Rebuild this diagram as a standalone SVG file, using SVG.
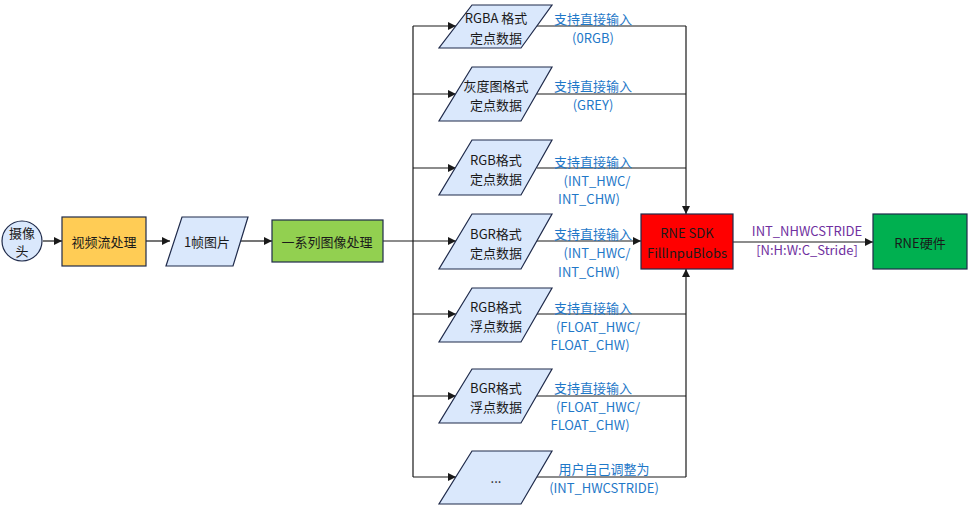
<svg xmlns="http://www.w3.org/2000/svg" width="968" height="514" viewBox="0 0 968 514">
<defs>
<marker id="ah" viewBox="0 0 10 10" refX="10" refY="5" markerWidth="8" markerHeight="8" markerUnits="userSpaceOnUse" orient="auto">
<path d="M0,0 L10,5 L0,10 z" fill="#1a1a1a"/>
</marker>
<style>
text{font-family:"Microsoft YaHei","Noto Sans CJK SC","Noto Sans",sans-serif;font-size:13px;text-anchor:middle;dominant-baseline:central;fill:#1a1a1a}
.c{fill:none;stroke:#1a1a1a;stroke-width:1.2}
.a{marker-end:url(#ah)}
.p{fill:#DAE8FC;stroke:#1F2A4A;stroke-width:1.2}
.b{stroke:#1F2A4A;stroke-width:1.2}
.l{fill:#1F78C8}
.v{fill:#7030A0}
</style>
</defs>
<rect width="968" height="514" fill="#ffffff"/>
<g id="connectors">
<path class="c a" d="M43,241 L62,241"/>
<path class="c a" d="M146,241 L170,241"/>
<path class="c a" d="M240,241 L272,241"/>
<path class="c" d="M383,241 L413,241 M413,26 L413,477"/>
<path class="c a" d="M413,26 L456,26"/>
<path class="c a" d="M413,94 L456,94"/>
<path class="c a" d="M413,168 L456,168"/>
<path class="c a" d="M413,241 L456,241"/>
<path class="c a" d="M413,314 L456,314"/>
<path class="c a" d="M413,396 L456,396"/>
<path class="c a" d="M413,477 L456,477"/>
<path class="c" d="M537,26 L686,26 M537,94 L686,94 M537,168 L686,168"/>
<path class="c a" d="M686,26 L686,214"/>
<path class="c a" d="M537,241 L641,241"/>
<path class="c" d="M537,314 L686,314 M537,396 L686,396 M537,477 L686,477"/>
<path class="c a" d="M686,477 L686,269"/>
<path class="c a" d="M733,242 L873,242"/>
</g>
<g id="camera"><circle cx="22" cy="241" r="20" fill="#DAE8FC" class="b"/><text x="22" y="232">摄像</text><text x="22" y="250">头</text></g>
<g id="video"><rect x="62" y="217" width="84" height="49" fill="#FFCC55" class="b"/><text x="104" y="241">视频流处理</text></g>
<g id="frame"><polygon class="p" points="182,217 248,217 233,266 166,266"/><text x="207" y="241">1帧图片</text></g>
<g id="imgproc"><rect x="272" y="220" width="111" height="42" fill="#92D050" class="b"/><text x="327" y="241">一系列图像处理</text></g>
<g id="rgba"><polygon class="p" points="472,5 552,5 521,48 439,48"/><text x="496" y="17">RGBA 格式</text><text x="496" y="37">定点数据</text></g>
<g id="grey"><polygon class="p" points="472,67 552,67 521,121 439,121"/><text x="496" y="85">灰度图格式</text><text x="496" y="104">定点数据</text></g>
<g id="rgbint"><polygon class="p" points="472,140 552,140 521,195 439,195"/><text x="496" y="159">RGB格式</text><text x="496" y="178">定点数据</text></g>
<g id="bgrint"><polygon class="p" points="472,214 552,214 521,269 439,269"/><text x="496" y="233">BGR格式</text><text x="496" y="252">定点数据</text></g>
<g id="rgbfloat"><polygon class="p" points="472,288 552,288 521,342 439,342"/><text x="496" y="306">RGB格式</text><text x="496" y="325">浮点数据</text></g>
<g id="bgrfloat"><polygon class="p" points="472,369 552,369 521,423 439,423"/><text x="496" y="387">BGR格式</text><text x="496" y="406">浮点数据</text></g>
<g id="other"><polygon class="p" points="472,451 552,451 521,504 439,504"/><text x="496" y="477">...</text></g>
<g id="labels">
<text class="l" x="593" y="18">支持直接输入</text><text class="l" x="593" y="37">(0RGB)</text>
<text class="l" x="593" y="85">支持直接输入</text><text class="l" x="593" y="104">(GREY)</text>
<text class="l" x="593" y="161">支持直接输入</text><text class="l" x="597" y="180">(INT_HWC/</text><text class="l" x="589" y="198">INT_CHW)</text>
<text class="l" x="593" y="233">支持直接输入</text><text class="l" x="597" y="252">(INT_HWC/</text><text class="l" x="589" y="271">INT_CHW)</text>
<text class="l" x="593" y="307">支持直接输入</text><text class="l" x="598" y="326">(FLOAT_HWC/</text><text class="l" x="590" y="344">FLOAT_CHW)</text>
<text class="l" x="593" y="387">支持直接输入</text><text class="l" x="598" y="406">(FLOAT_HWC/</text><text class="l" x="590" y="424">FLOAT_CHW)</text>
<text class="l" x="604" y="468">用户自己调整为</text><text class="l" x="604" y="487">(INT_HWCSTRIDE)</text>
<text class="v" x="807" y="230">INT_NHWCSTRIDE</text><text class="v" x="807" y="249">[N:H:W:C_Stride]</text>
</g>
<g id="rnesdk"><rect x="641" y="214" width="92" height="55" fill="#FF0000" class="b"/><text x="687" y="232">RNE SDK</text><text x="687" y="252">FillInpuBlobs</text></g>
<g id="rnehw"><rect x="873" y="214" width="94" height="55" fill="#00B050" class="b"/><text x="920" y="242">RNE硬件</text></g>
</svg>
